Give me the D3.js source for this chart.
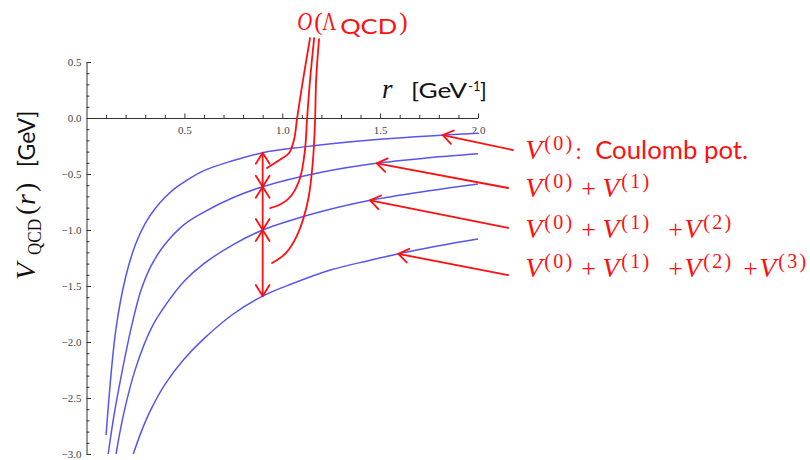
<!DOCTYPE html>
<html>
<head>
<meta charset="utf-8">
<script src="https://cdn.jsdelivr.net/npm/d3@7"></script>
<style>
  body { margin: 0; background: #fff; }
  svg { display: block; }
</style>
</head>
<body>
<svg id="chart" width="810" height="460"></svg>
<script>
// Static QCD potential at successive orders of perturbation theory.
// r in GeV^-1, V in GeV.
const rV0    = [0.10, 0.15, 0.20, 0.25, 0.30, 0.35, 0.40, 0.45, 0.50, 0.60, 0.75, 0.90, 1.10, 1.25, 1.50, 1.75, 2.00];
const V0     = [-2.83, -1.89, -1.42, -1.13, -0.94, -0.81, -0.71, -0.63, -0.57, -0.47, -0.38, -0.31, -0.26, -0.23, -0.19, -0.16, -0.137];

const rV01   = [0.111, 0.14, 0.18, 0.23, 0.28, 0.33, 0.40, 0.50, 0.60, 0.75, 0.90, 1.20, 1.50, 1.75, 2.00];
const V01    = [-3.00, -2.66, -2.28, -1.86, -1.53, -1.32, -1.13, -0.95, -0.84, -0.71, -0.614, -0.485, -0.40, -0.355, -0.32];

const rV012  = [0.151, 0.19, 0.25, 0.33, 0.40, 0.50, 0.60, 0.75, 0.90, 1.05, 1.20, 1.45, 1.75, 2.00];
const V012   = [-3.00, -2.64, -2.24, -1.88, -1.68, -1.455, -1.30, -1.13, -1.00, -0.91, -0.835, -0.735, -0.65, -0.589];

const rV0123 = [0.239, 0.28, 0.33, 0.40, 0.50, 0.60, 0.75, 0.90, 1.05, 1.25, 1.45, 1.60, 1.80, 2.00];
const V0123  = [-3.00, -2.80, -2.60, -2.38, -2.15, -1.97, -1.75, -1.59, -1.48, -1.355, -1.27, -1.21, -1.14, -1.08];

const xTicks = [0.5, 1.0, 1.5, 2.0];
const yTicks = [0.5, 0.0, -0.5, -1.0, -1.5, -2.0, -2.5, -3.0];

// separation where the order-by-order shifts are marked
const rShift = 0.9;
// where each label arrow touches its curve
const labelTipR = [1.82, 1.483, 1.449, 1.593];

const series = [
  { r: rV0,    v: V0 },
  { r: rV01,   v: V01 },
  { r: rV012,  v: V012 },
  { r: rV0123, v: V0123 }
];

const svg = d3.select("#chart");
const x = d3.scaleLinear().domain([0, 2]).range([86.5, 478]);
const y = d3.scaleLinear().domain([0.5, -3]).range([62, 454]);

const SERIF = "'Liberation Serif', 'DejaVu Serif', serif";
const SANS = "Lato, 'Open Sans', sans-serif";
const RED = "#ff1010";
const BLUE = "#5656ee";
const AXIS = "#333";

// ---------- axes ----------
const fmt = d3.format(".1f");
const minorX = d3.range(1, 20).map(i => i / 10).filter(v => Math.abs(v * 2 - Math.round(v * 2)) > 1e-6);
const minorY = d3.range(-30, 6).map(i => i / 10).filter(v => Math.abs(v * 2 - Math.round(v * 2)) > 1e-6);

function styleAxis(g) {
  g.selectAll("path.domain").attr("stroke", AXIS).attr("stroke-width", 1);
  g.selectAll(".tick line").attr("stroke", AXIS).attr("stroke-width", 1);
  g.selectAll(".tick text").attr("fill", "#444").attr("font-family", SERIF).attr("font-size", 11);
}

const gx = svg.append("g").attr("transform", `translate(0,${y(0)})`)
  .call(d3.axisBottom(x).tickValues(xTicks).tickFormat(fmt)
    .tickSizeInner(-4.5).tickSizeOuter(0).tickPadding(8));
styleAxis(gx);
const gxm = svg.append("g").attr("transform", `translate(0,${y(0)})`)
  .call(d3.axisBottom(x).tickValues(minorX).tickFormat("").tickSizeInner(-3).tickSizeOuter(0));
gxm.select("path.domain").remove();
styleAxis(gxm);

const gy = svg.append("g").attr("transform", `translate(${x(0)},0)`)
  .call(d3.axisLeft(y).tickValues(yTicks).tickFormat(fmt)
    .tickSizeInner(-4.5).tickSizeOuter(0).tickPadding(5));
styleAxis(gy);
gy.selectAll(".tick text").attr("x", -5);
const gym = svg.append("g").attr("transform", `translate(${x(0)},0)`)
  .call(d3.axisLeft(y).tickValues(minorY).tickFormat("").tickSizeInner(-3).tickSizeOuter(0));
gym.select("path.domain").remove();
styleAxis(gym);

// ---------- potential curves ----------
const line = d3.line()
  .x(d => x(d[0])).y(d => y(d[1]))
  .curve(d3.curveCatmullRom.alpha(0.5));

svg.append("g").selectAll("path").data(series).join("path")
  .attr("d", s => line(s.r.map((r, i) => [r, s.v[i]])))
  .attr("fill", "none")
  .attr("stroke", BLUE)
  .attr("stroke-width", 1.5);

function valueAt(s, r) {
  const i = Math.max(1, d3.bisectLeft(s.r, r));
  const t = (r - s.r[i - 1]) / (s.r[i] - s.r[i - 1]);
  return s.v[i - 1] + t * (s.v[i] - s.v[i - 1]);
}

// ---------- annotations ----------
const ann = svg.append("g")
  .attr("stroke", RED).attr("stroke-width", 1.8)
  .attr("fill", "none").attr("stroke-linecap", "round").attr("stroke-linejoin", "round");

function openHead(tx, ty, fx, fy, len = 13, half = 32) {
  const a = Math.atan2(fy - ty, fx - tx);
  const h = half * Math.PI / 180;
  const p1 = [tx + len * Math.cos(a - h), ty + len * Math.sin(a - h)];
  const p2 = [tx + len * Math.cos(a + h), ty + len * Math.sin(a + h)];
  ann.append("path").attr("d", `M${p1}L${tx},${ty}L${p2}`);
}

// double arrows between neighbouring orders at r = rShift
const shiftY = series.map(s => y(valueAt(s, rShift)));
for (let k = 0; k < 3; k++) {
  const xs = x(rShift), y1 = shiftY[k], y2 = shiftY[k + 1];
  ann.append("line").attr("x1", xs).attr("x2", xs).attr("y1", y1).attr("y2", y2);
  openHead(xs, y1, xs, y2);
  openHead(xs, y2, xs, y1);
}

// leader lines from the O(Lambda_QCD) label to each shift
const leaders = [
  [[1.142, 0.714], [1.106, 0.339], [1.076, 0.0], [1.060, -0.196], [1.035, -0.313], [0.994, -0.366], [0.922, -0.446]],
  [[1.163, 0.714], [1.142, 0.339], [1.127, 0.0], [1.116, -0.286], [1.091, -0.536], [1.045, -0.696], [0.994, -0.768], [0.938, -0.804]],
  [[1.188, 0.705], [1.173, 0.339], [1.168, 0.0], [1.157, -0.375], [1.132, -0.732], [1.081, -1.027], [1.019, -1.205], [0.948, -1.295]]
];
const leaderLine = d3.line().x(d => x(d[0])).y(d => y(d[1])).curve(d3.curveCatmullRom.alpha(0.5));
leaders.forEach(p => ann.append("path").attr("d", leaderLine(p)));

// arrows from the right-hand labels to each curve
const labelArrowStart = [[2.179, -0.286], [2.154, -0.625], [2.154, -0.982], [2.154, -1.402]];
series.forEach((s, k) => {
  const tx = x(labelTipR[k]), ty = y(valueAt(s, labelTipR[k]));
  const fx = x(labelArrowStart[k][0]), fy = y(labelArrowStart[k][1]);
  ann.append("line").attr("x1", fx).attr("y1", fy).attr("x2", tx).attr("y2", ty);
  openHead(tx, ty, fx, fy, 12, 35);
});

// ---------- text ----------
function runs(g, list, color) {
  list.forEach(d => {
    const t = g.append("text")
      .attr("x", d.x).attr("y", d.dy || 0)
      .attr("font-family", d.family)
      .attr("font-size", d.size)
      .attr("font-style", d.italic ? "italic" : "normal")
      .attr("fill", color)
      .text(d.t);
    if (d.w) t.attr("textLength", d.w).attr("lengthAdjust", d.adjust || "spacingAndGlyphs");
  });
}

// order labels
const labelOrders = [["0"], ["0", "1"], ["0", "1", "2"], ["0", "1", "2", "3"]];
const labelBase = [-0.366, -0.705, -1.071, -1.420];
const labelR = 2.246;
const termX = [0, 77, 159, 234];
const plusX = [55, 142, 217];
labelOrders.forEach((ord, k) => {
  const g = svg.append("g").attr("transform", `translate(${x(labelR)},${y(labelBase[k])})`);
  const list = [];
  ord.forEach((o, j) => {
    if (j > 0) list.push({ t: "+", x: plusX[j - 1], size: 26, family: SERIF });
    list.push({ t: "V", x: termX[j] - 1, size: 28, family: SERIF, italic: true });
    list.push({ t: `(${o})`, x: termX[j] + 18, dy: -9, size: 20, family: SERIF, w: 28, adjust: "spacing" });
  });
  if (k === 0) {
    list.push({ t: ":", x: 49, size: 24, family: SERIF });
    list.push({ t: "Coulomb pot.", x: 69, size: 25, family: SANS, w: 153 });
  }
  runs(g, list, RED);
});

// O(Lambda_QCD)
const gO = svg.append("g").attr("transform", `translate(${x(1.076)},${y(0.786)})`);
runs(gO, [
  { t: "O", x: 0, size: 25, family: SERIF, italic: true, w: 15 },
  { t: "(", x: 17, size: 25, family: SERIF },
  { t: "Λ", x: 25, size: 25, family: SERIF, w: 14 },
  { t: "QCD", x: 43, dy: 4.5, size: 22, family: SANS, w: 57 },
  { t: ")", x: 102, size: 25, family: SERIF }
], RED);

// x axis title
const gR = svg.append("g").attr("transform", `translate(${x(1.51)},${y(0.179)})`);
runs(gR, [
  { t: "r", x: 0, size: 27, family: SERIF, italic: true },
  { t: "[GeV", x: 29, size: 22, family: SANS, w: 56 },
  { t: "-1", x: 86, dy: -7, size: 13, family: SANS },
  { t: "]", x: 98, size: 22, family: SANS }
], "#111");

// y axis title
const gV = svg.append("g").attr("transform", "translate(35,280) rotate(-90)");
runs(gV, [
  { t: "V", x: 0, size: 28, family: SERIF, italic: true },
  { t: "QCD", x: 25, dy: 6, size: 18, family: SERIF, w: 36 },
  { t: "(", x: 65, size: 28, family: SERIF },
  { t: "r", x: 75, size: 28, family: SERIF, italic: true },
  { t: ")", x: 88, size: 28, family: SERIF },
  { t: "[GeV]", x: 113, size: 23, family: SANS }
], "#111");
</script>
</body>
</html>
